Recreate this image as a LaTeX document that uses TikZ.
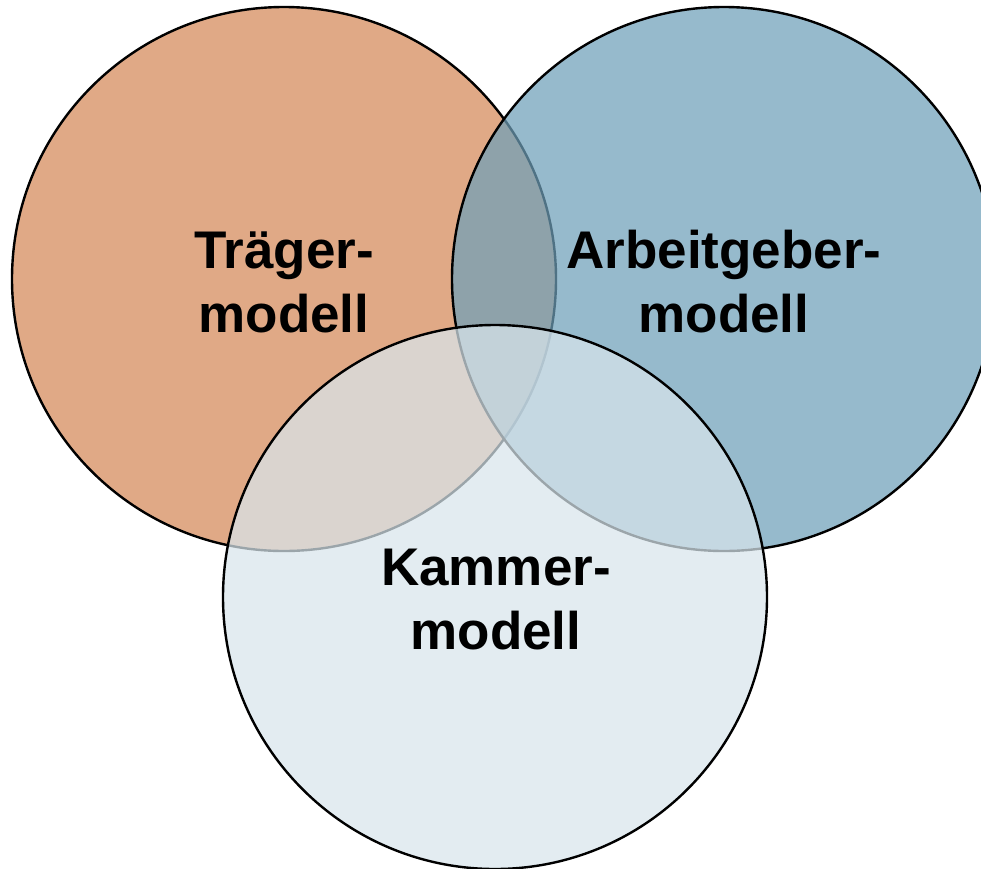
\documentclass[tikz,border=0pt]{standalone}
\usepackage{fontspec}
\setmainfont{Liberation Sans}
\definecolor{cOrange}{RGB}{212,136,88}
\definecolor{cBlue}{RGB}{110,159,184}
\definecolor{cLight}{RGB}{216,229,236}
\tikzset{
  venn/.style={draw=black, line width=2.4pt, fill opacity=0.72},
  lbl/.style={align=center, font=\fontsize{53}{64}\selectfont\bfseries, text=black, inner sep=0pt}
}
\begin{document}
\begin{tikzpicture}[x=1pt,y=-1pt]
\useasboundingbox (0,0) rectangle (981,868);
\node[venn, circle, minimum size=544pt, inner sep=0pt, fill=cOrange] (traeger) at (284,279) {};
\node[venn, circle, minimum size=544pt, inner sep=0pt, fill=cBlue] (arbeit) at (724,279) {};
\node[venn, circle, minimum size=544pt, inner sep=0pt, fill=cLight] (kammer) at (495,597) {};
\node[lbl] (t1) at (284,282) {Träger-\\modell};
\node[lbl] (t2) at (724,282) {Arbeitgeber-\\modell};
\node[lbl] (t3) at (496,600) {Kammer-\\modell};
\end{tikzpicture}
\end{document}
